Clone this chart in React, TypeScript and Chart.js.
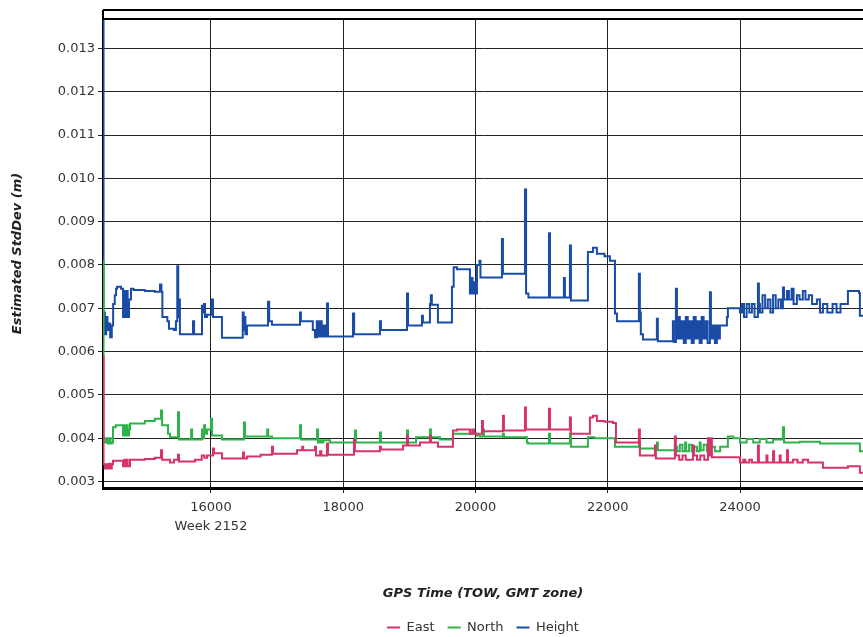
import { useEffect, useRef } from "react";
import { Chart, registerables } from "chart.js";

Chart.register(...registerables);

// ---- axis ticks ----
const xTicks = [16000, 18000, 20000, 22000, 24000];
const yTicks = [0.003, 0.004, 0.005, 0.006, 0.007, 0.008, 0.009, 0.01, 0.011, 0.012, 0.013];
const weekLabel = "Week 2152";
const xMin = 14367;
const xMax = 25860;
const yMin = 0.00285;
const yMax = 0.01368;

// ---- Height (change points: time, value) ----
const heightTime = [
  14367, 14375, 14395, 14415, 14435, 14455, 14475, 14500, 14520, 14545, 14565, 14580, 14640,
  14670, 14690, 14705, 14725, 14740, 14760, 14790, 14830, 15000, 15150, 15229, 15250, 15265,
  15340, 15365, 15440, 15470, 15490, 15505, 15515, 15530, 15728, 15745, 15864, 15880, 15895,
  15910, 15940, 16010, 16030, 16166, 16480, 16495, 16505, 16520, 16544, 16862, 16880, 16922,
  17346, 17360, 17540, 17573, 17600, 17620, 17650, 17675, 17700, 17724, 17754, 17770, 18147,
  18165, 18555, 18570, 18964, 18980, 19190, 19205, 19311, 19325, 19340, 19432, 19644, 19670,
  19720, 19916, 19935, 19955, 19975, 19995, 20022, 20060, 20075, 20400, 20415, 20748, 20765,
  20800, 21111, 21126, 21337, 21352, 21428, 21443, 21700, 21776, 21836, 21950, 22033, 22109,
  22139, 22471, 22486, 22500, 22532, 22743, 22758, 22985, 23000, 23031, 23046, 23061, 23090,
  23120, 23150, 23180, 23210, 23240, 23270, 23300, 23330, 23360, 23390, 23420, 23450, 23480,
  23510, 23545, 23560, 23590, 23620, 23650, 23680, 23696, 23802, 23817, 23999, 24030, 24060,
  24100, 24140, 24180, 24220, 24271, 24286, 24301, 24340, 24380, 24420, 24460, 24500, 24540,
  24580, 24620, 24649, 24665, 24710, 24740, 24780, 24810, 24860, 24900, 24950, 24990, 25040,
  25090, 25163, 25209, 25254, 25320, 25400, 25460, 25520, 25632, 25800, 25813, 25860,
];
const heightValue = [
  0.01365, 0.0069, 0.0064, 0.0068, 0.0065, 0.00665, 0.00633, 0.0066, 0.0071, 0.0073, 0.00745, 0.0075, 0.00745,
  0.0068, 0.0074, 0.0068, 0.0074, 0.0068, 0.0072, 0.00745, 0.00742, 0.0074, 0.00738, 0.00755, 0.00738, 0.0068,
  0.0067, 0.00653, 0.0065, 0.0067, 0.00797, 0.0068, 0.0072, 0.0064, 0.0067, 0.0064, 0.00706, 0.0069, 0.0071,
  0.0068, 0.00685, 0.0072, 0.0068, 0.00632, 0.0069, 0.0065, 0.0068, 0.0064, 0.0066, 0.00715, 0.0067, 0.00662,
  0.0069, 0.0067, 0.0065, 0.00633, 0.0067, 0.00635, 0.0067, 0.00635, 0.0066, 0.00635, 0.00711, 0.00635, 0.00688,
  0.0064, 0.0067, 0.0065, 0.00734, 0.0066, 0.00683, 0.00667, 0.0071, 0.0073, 0.00708, 0.00667, 0.0075, 0.00795,
  0.0079, 0.00734, 0.0077, 0.00734, 0.0076, 0.00734, 0.008, 0.0081, 0.00771, 0.0086, 0.0078, 0.00974, 0.00734,
  0.00725, 0.00873, 0.00725, 0.0077, 0.00725, 0.00845, 0.00718, 0.0083, 0.0084, 0.00826, 0.0082, 0.0081, 0.00688,
  0.0067, 0.0078, 0.0069, 0.0064, 0.00628, 0.00676, 0.00624, 0.0067, 0.00622, 0.00745, 0.0063, 0.0068, 0.0063,
  0.0067, 0.0062, 0.0068, 0.0063, 0.0067, 0.0062, 0.0068, 0.0063, 0.0067, 0.0062, 0.0068, 0.0063, 0.0067,
  0.0062, 0.00737, 0.0063, 0.0066, 0.0062, 0.0066, 0.0063, 0.0066, 0.0068, 0.007, 0.0069, 0.0071, 0.0068,
  0.0071, 0.0069, 0.0071, 0.0068, 0.00757, 0.0071, 0.0069, 0.0073, 0.007, 0.0072, 0.0069, 0.0073, 0.007,
  0.0072, 0.007, 0.00748, 0.0072, 0.0074, 0.0072, 0.00745, 0.0071, 0.0073, 0.0072, 0.0074, 0.0072, 0.0073,
  0.0071, 0.0072, 0.0069, 0.0071, 0.0069, 0.0071, 0.0069, 0.0071, 0.0074, 0.00735, 0.00683, 0.00683,
];

// ---- North ----
const northTime = [
  14367, 14375, 14400, 14420, 14440, 14460, 14480, 14500, 14518, 14560, 14670, 14690, 14705,
  14725, 14740, 14760, 14775, 15000, 15150, 15244, 15260, 15350, 15380, 15501, 15516, 15700,
  15715, 15864, 15880, 15895, 15910, 15940, 16000, 16015, 16166, 16499, 16514, 16850, 16865,
  16922, 17346, 17361, 17603, 17618, 17650, 17680, 17700, 17799, 18177, 18192, 18555, 18570,
  18964, 18980, 19100, 19311, 19326, 19463, 19659, 20022, 20067, 20113, 20128, 20415, 20430,
  20778, 20793, 21111, 21126, 21428, 21443, 21700, 21800, 22109, 22471, 22486, 22743, 22758,
  23015, 23050, 23090, 23130, 23170, 23185, 23230, 23270, 23310, 23350, 23390, 23405, 23450,
  23500, 23560, 23620, 23700, 23817, 23900, 24000, 24100, 24200, 24300, 24400, 24500, 24649,
  24665, 24900, 25209, 25813, 25860,
];
const northValue = [
  0.0081, 0.004, 0.0039, 0.004, 0.00388, 0.004, 0.00388, 0.0039, 0.00425, 0.0043, 0.00406, 0.0043, 0.00406,
  0.0043, 0.00406, 0.0042, 0.00434, 0.0044, 0.00445, 0.00464, 0.0043, 0.0041, 0.00402, 0.0046, 0.00397, 0.0042,
  0.00397, 0.0042, 0.004, 0.0043, 0.0041, 0.0042, 0.00445, 0.00406, 0.00397, 0.00436, 0.00404, 0.0042, 0.00404,
  0.004, 0.0043, 0.00397, 0.0042, 0.0039, 0.00395, 0.0039, 0.00395, 0.0039, 0.00418, 0.0039, 0.00413, 0.0039,
  0.00418, 0.0039, 0.00402, 0.0042, 0.00402, 0.00397, 0.0041, 0.00406, 0.00404, 0.0042, 0.00404, 0.0041, 0.00402,
  0.0039, 0.00388, 0.0041, 0.00388, 0.0041, 0.0038, 0.00402, 0.004, 0.0038, 0.0039, 0.00376, 0.0039, 0.00372,
  0.0038, 0.0037, 0.00385, 0.0037, 0.0039, 0.0037, 0.00385, 0.0037, 0.0038, 0.0037, 0.0039, 0.00372, 0.00385,
  0.0037, 0.0038, 0.0037, 0.0038, 0.00404, 0.004, 0.0039, 0.00398, 0.0039, 0.00398, 0.0039, 0.00397, 0.00425,
  0.0039, 0.00392, 0.00388, 0.0037, 0.0037,
];

// ---- East ----
const eastTime = [
  14367, 14375, 14395, 14415, 14440, 14460, 14480, 14500, 14518, 14670, 14690, 14705, 14725,
  14740, 14775, 15000, 15150, 15244, 15260, 15380, 15440, 15501, 15516, 15758, 15860, 15900,
  15940, 16030, 16045, 16166, 16484, 16499, 16544, 16750, 16922, 16937, 17300, 17380, 17395,
  17573, 17588, 17650, 17670, 17754, 17770, 18162, 18177, 18555, 18570, 18903, 18964, 18979,
  19160, 19311, 19326, 19432, 19659, 19720, 19916, 19950, 19980, 20098, 20113, 20415, 20430,
  20748, 20763, 21111, 21126, 21428, 21443, 21730, 21776, 21836, 21950, 22078, 22124, 22471,
  22486, 22713, 22728, 23015, 23030, 23080, 23130, 23180, 23288, 23303, 23350, 23400, 23460,
  23515, 23530, 23560, 23575, 23999, 24050, 24080, 24140, 24180, 24271, 24286, 24400, 24415,
  24500, 24515, 24600, 24615, 24710, 24725, 24800, 24870, 24950, 25030, 25254, 25632, 25813,
  25860,
];
const eastValue = [
  0.0059, 0.0034, 0.0033, 0.0034, 0.0033, 0.00341, 0.0033, 0.0034, 0.00348, 0.00335, 0.0035, 0.00335, 0.0035,
  0.00335, 0.0035, 0.00352, 0.00355, 0.00372, 0.0035, 0.00344, 0.0035, 0.00362, 0.00346, 0.0035, 0.0036, 0.00355,
  0.0036, 0.00376, 0.00365, 0.00353, 0.00367, 0.00353, 0.00358, 0.00362, 0.0038, 0.00364, 0.00372, 0.0038, 0.00372,
  0.0038, 0.0036, 0.0037, 0.0036, 0.00388, 0.00362, 0.00395, 0.0037, 0.0038, 0.00374, 0.00383, 0.00406, 0.00383,
  0.0039, 0.00406, 0.0039, 0.0038, 0.00418, 0.0042, 0.0041, 0.0042, 0.0041, 0.0044, 0.00416, 0.00452, 0.00418,
  0.00471, 0.0042, 0.00468, 0.0042, 0.00448, 0.0041, 0.00448, 0.00452, 0.0044, 0.00438, 0.00435, 0.0039, 0.0042,
  0.0036, 0.00383, 0.00353, 0.00404, 0.0036, 0.0035, 0.0036, 0.0035, 0.00383, 0.0036, 0.0035, 0.0036, 0.0035,
  0.004, 0.0036, 0.004, 0.00356, 0.00344, 0.0035, 0.00344, 0.0035, 0.00344, 0.00383, 0.00344, 0.0036, 0.00344,
  0.0037, 0.00344, 0.0036, 0.00344, 0.00372, 0.00344, 0.0035, 0.00344, 0.0035, 0.00344, 0.00332, 0.00335, 0.0032,
  0.0032,
];

const seriesNames = ["East", "North", "Height"];
const seriesColors = ["#d6336c", "#2db34a", "#1a4ca6"];

const FONT = '"DejaVu Sans", Verdana, sans-serif';

function toPoints(t: number[], v: number[]) {
  return t.map((x, i) => ({ x, y: v[i] }));
}

export default function App() {
  const ref = useRef<HTMLCanvasElement>(null);

  useEffect(() => {
    if (!ref.current) return;
    const framePlugin = {
      id: "frameLines",
      afterLayout(chart: any) {
        const lg = chart.legend;
        if (lg) {
          lg.left = chart.chartArea.left;
          lg.right = chart.chartArea.right;
          lg.width = lg.right - lg.left;
        }
      },
      afterDatasetsDraw(chart: any) {
        const { ctx, chartArea } = chart;
        const { left, right, top } = chartArea;
        ctx.save();
        ctx.strokeStyle = "#000";
        ctx.lineWidth = 2;
        ctx.beginPath();
        ctx.moveTo(left, top);
        ctx.lineTo(right, top);
        ctx.moveTo(left, top - 9);
        ctx.lineTo(right, top - 9);
        ctx.moveTo(left, top - 9);
        ctx.lineTo(left, top);
        ctx.stroke();
        ctx.restore();
      },
    };

    const series = [
      toPoints(eastTime, eastValue),
      toPoints(northTime, northValue),
      toPoints(heightTime, heightValue),
    ];

    const chart = new Chart(ref.current, {
      type: "line",
      data: {
        datasets: series.map((data, i) => ({
          label: seriesNames[i],
          data,
          borderColor: seriesColors[i],
          backgroundColor: seriesColors[i],
          borderWidth: 2,
          pointRadius: 0,
          pointHoverRadius: 0,
          stepped: true,
          fill: false,
        })),
      },
      options: {
        responsive: false,
        animation: false,
        events: [],
        layout: { padding: { left: 0, right: 0, top: 19, bottom: 0 } },
        plugins: {
          legend: {
            position: "bottom",
            labels: {
              usePointStyle: true,
              pointStyle: "line",
              pointStyleWidth: 13,
              padding: 13,
              color: "#333",
              font: { family: FONT, size: 13 },
            },
          },
          tooltip: { enabled: false },
        },
        scales: {
          x: {
            type: "linear",
            min: xMin,
            max: xMax,
            afterBuildTicks: (s: any) => {
              s.ticks = xTicks.map((v) => ({ value: v }));
            },
            afterFit: (s: any) => {
              s.height = 120;
            },
            ticks: {
              autoSkip: false,
              maxRotation: 0,
              padding: 6,
              color: "#333",
              font: { family: FONT, size: 13, lineHeight: 1.4 },
              callback: (v: any) => (v === xTicks[0] ? [String(v), weekLabel] : String(v)),
            },
            grid: { color: "#222", lineWidth: 1, tickLength: 5 },
            border: { color: "#000", width: 3 },
            title: {
              display: true,
              text: "GPS Time (TOW, GMT zone)",
              color: "#222",
              font: { family: FONT, size: 13, weight: "bold", style: "italic" },
              padding: { top: 0, bottom: 7 },
            },
          },
          y: {
            type: "linear",
            min: yMin,
            max: yMax,
            afterBuildTicks: (s: any) => {
              s.ticks = yTicks.map((v) => ({ value: v }));
            },
            afterFit: (s: any) => {
              s.width = 103;
            },
            ticks: {
              padding: 3,
              color: "#333",
              font: { family: FONT, size: 13 },
              callback: (v: any) => Number(v).toFixed(3),
            },
            grid: { color: "#222", lineWidth: 1, tickLength: 5 },
            border: { color: "#000", width: 2 },
            title: {
              display: true,
              text: "Estimated StdDev (m)",
              color: "#222",
              font: { family: FONT, size: 13, weight: "bold", style: "italic" },
              padding: { top: 10, bottom: 0 },
            },
          },
        },
      },
      plugins: [framePlugin],
    } as any);

    return () => chart.destroy();
  }, []);

  return (
    <canvas
      ref={ref}
      width={863}
      height={644}
      style={{ position: "fixed", left: 0, top: 0, width: 863, height: 644, background: "#fff" }}
    />
  );
}
